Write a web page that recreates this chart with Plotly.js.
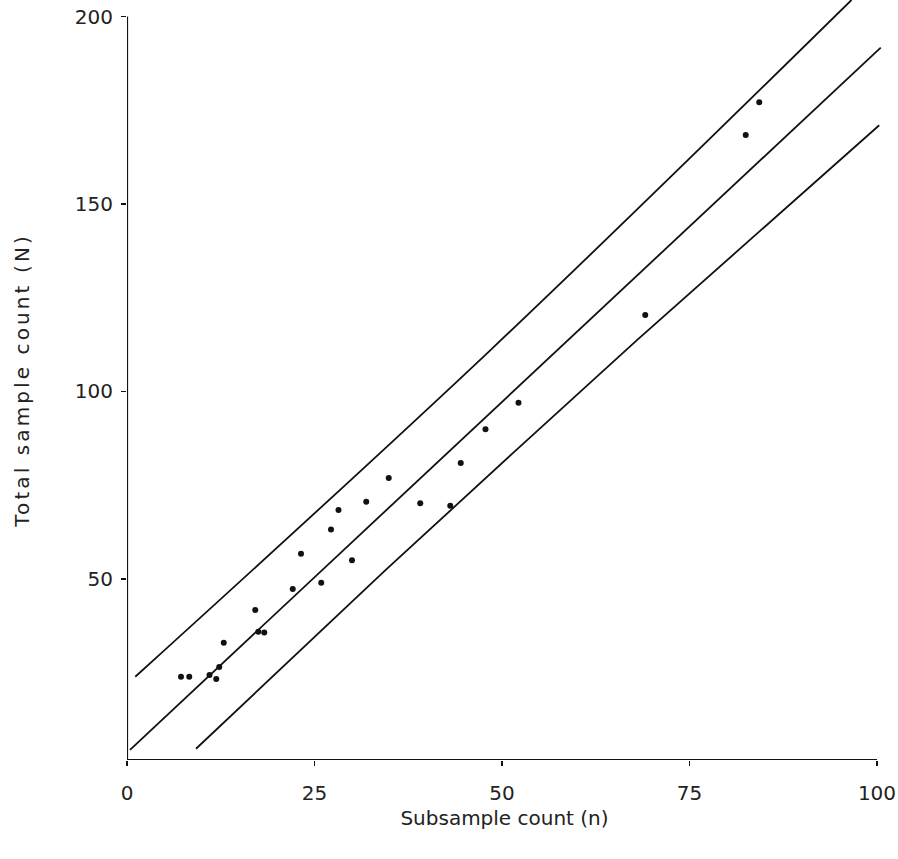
<!DOCTYPE html>
<html>
<head>
<meta charset="utf-8">
<script src="https://cdn.plot.ly/plotly-3.0.1.min.js"></script>
<style>
  html, body { margin: 0; padding: 0; background: #fff; }
  #chart { width: 898px; height: 859px; }
  #chart .ytitle { letter-spacing: 3.1px; }
</style>
</head>
<body>
<div id="chart"></div>
<script>
// Observed samples: subsample count (n) vs total sample count (N)
const subsampleN = [7.2, 8.3, 11.0, 11.9, 12.3, 12.9, 17.1, 17.5, 18.3, 22.1, 23.2, 25.9, 27.2, 28.2, 30.0, 31.9, 34.9, 39.1, 43.1, 44.5, 47.8, 52.2, 69.1, 82.5, 84.3];
const totalN     = [23.9, 23.9, 24.4, 23.3, 26.5, 33.0, 41.7, 35.9, 35.7, 47.3, 56.7, 49.0, 63.2, 68.4, 55.0, 70.6, 76.9, 70.2, 69.5, 80.9, 89.9, 97.0, 120.4, 168.4, 177.1];

// Regression line and upper / lower limits
const upperX  = [1.1, 48.5, 96.6];
const upperY  = [23.9, 111.1, 204.4];
const middleX = [0.4, 100.5];
const middleY = [4.4, 191.7];
const lowerX  = [9.2, 34.5, 68.0, 100.3];
const lowerY  = [4.7, 52.4, 113.7, 171.0];

const xTicks = [0, 25, 50, 75, 100];
const yTicks = [50, 100, 150, 200];

const lineStyle = {color: '#111', width: 1.8};
const traces = [
  {x: upperX, y: upperY, mode: 'lines', line: Object.assign({shape: 'spline', smoothing: 1}, lineStyle), hoverinfo: 'skip'},
  {x: middleX, y: middleY, mode: 'lines', line: lineStyle, hoverinfo: 'skip'},
  {x: lowerX, y: lowerY, mode: 'lines', line: Object.assign({shape: 'spline', smoothing: 0.6}, lineStyle), hoverinfo: 'skip'},
  {x: subsampleN, y: totalN, mode: 'markers', marker: {color: '#111', size: 6}, cliponaxis: false}
];

const yBottom = 1.7;
const fontFam = 'DejaVu Sans, Noto Sans, sans-serif';
const layout = {
  width: 898, height: 859,
  margin: {l: 127, r: 16, t: 0, b: 99},
  paper_bgcolor: '#fff', plot_bgcolor: '#fff',
  showlegend: false,
  font: {family: fontFam, color: '#222'},
  xaxis: {
    range: [0, 100.67],
    tickmode: 'array', tickvals: xTicks, ticktext: xTicks.map(String),
    ticks: 'outside', ticklen: 5, tickwidth: 1.5, tickcolor: '#111',
    showline: false, showgrid: false, zeroline: false,
    tickfont: {family: fontFam, size: 20, color: '#222'},
    ticklabelstandoff: 10,
    title: {text: 'Subsample count (n)', font: {family: fontFam, size: 20, color: '#222'}, standoff: 6}
  },
  yaxis: {
    range: [yBottom, 204.4],
    tickmode: 'array', tickvals: yTicks, ticktext: yTicks.map(String),
    ticks: 'outside', ticklen: 5, tickwidth: 1.5, tickcolor: '#111',
    showline: false, showgrid: false, zeroline: false,
    tickfont: {family: fontFam, size: 20, color: '#222'},
    ticklabelstandoff: 4,
    title: {text: 'Total sample count (N)', font: {family: fontFam, size: 20, color: '#222'}, standoff: 39}
  },
  shapes: [
    {type: 'line', xref: 'x', yref: 'y', x0: 0, x1: 0, y0: yBottom, y1: 200, line: {color: '#111', width: 2.2}},
    {type: 'line', xref: 'x', yref: 'y', x0: 0, x1: 100, y0: yBottom, y1: yBottom, line: {color: '#111', width: 2.2}}
  ]
};

Plotly.newPlot('chart', traces, layout, {staticPlot: true, displayModeBar: false});
</script>
</body>
</html>
